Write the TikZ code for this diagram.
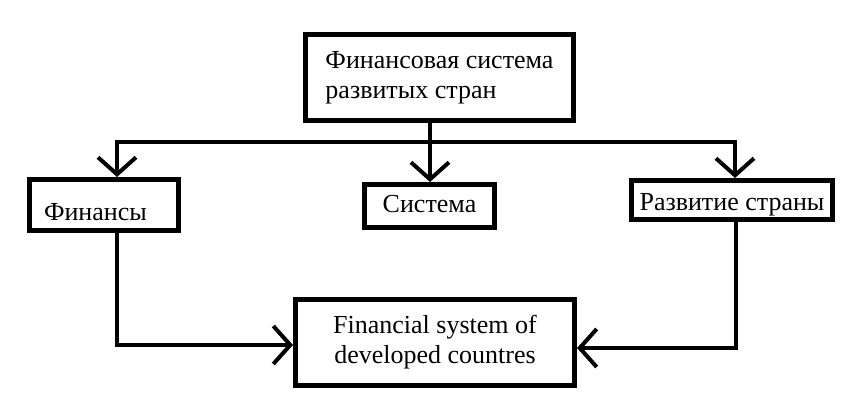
\documentclass[tikz,border=0pt]{standalone}
\usepackage{fontspec}
\setmainfont{Liberation Serif}
\usetikzlibrary{arrows.meta, positioning, calc}

\begin{document}
\begin{tikzpicture}[x=1pt, y=-1pt,
    box/.style={draw=black, line width=5pt, inner sep=0pt,
                font=\fontsize{26}{30}\selectfont},
    link/.style={line width=4pt, -{Straight Barb[length=17pt, width=38pt]}}]
  \useasboundingbox (0,0) rectangle (852,417);

  \node[box, minimum width=268pt, minimum height=86pt, align=left]
    (top) at (439.5,78) {Финансовая система\\развитых стран};
  \node[box, minimum width=149pt, minimum height=51pt, text width=120pt,
        align=left, text height=30pt, text depth=0pt]
    (fin) at (104,205) {Финансы};
  \node[box, minimum width=130pt, minimum height=43pt,
        text height=18pt, text depth=6pt]
    (sys) at (429.5,206) {Система};
  \node[box, minimum width=201pt, minimum height=39pt,
        text height=24pt, text depth=2pt]
    (dev) at (732,200) {Развитие страны};
  \node[box, minimum width=279pt, minimum height=86pt, align=center]
    (res) at (435,342.5) {Financial system of\\developed countres};

  % bus
  \coordinate (stem) at (430,142);
  \coordinate (busL) at (117,142);
  \coordinate (busR) at (735,142);

  \draw[line width=4pt] (stem |- top.south) -- (stem);
  \draw[link] (stem) -| (busL |- fin.north);
  \draw[link] (stem) -| (busR |- dev.north);
  \draw[link] (stem) -- (stem |- sys.north);

  \draw[link] (busL |- fin.south) |- ([yshift=-2.5pt]res.west);
  \draw[link] ([xshift=1pt]busR |- dev.south) |- ([yshift=-5.5pt]res.east);
\end{tikzpicture}
\end{document}
